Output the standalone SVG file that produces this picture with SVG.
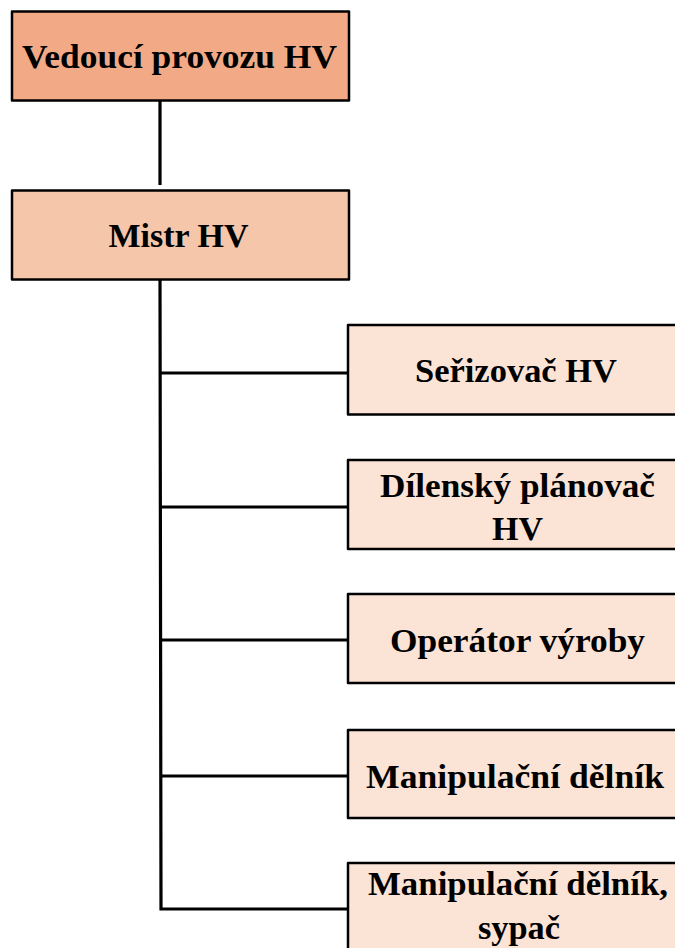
<svg xmlns="http://www.w3.org/2000/svg" width="675" height="948" viewBox="0 0 675 948">
<style>
.box{stroke:#000;stroke-width:2.5;stroke-linejoin:round}
.l1{fill:#F1AA85}
.l2{fill:#F5C6AA}
.l3{fill:#FBE3D6}
.t{font-family:"Liberation Serif","Times New Roman",serif;font-weight:bold;font-size:34px;fill:#000;text-anchor:middle}
.c{stroke:#000;stroke-width:3.2;fill:none}
</style>
<rect width="675" height="948" fill="#fff"/>
<g id="connectors">
<line class="c" x1="160" y1="101" x2="160" y2="185"/>
<polyline class="c" points="160,279 161,909 349,909"/>
<line class="c" x1="160" y1="373" x2="349" y2="373"/>
<line class="c" x1="160" y1="507" x2="349" y2="507"/>
<line class="c" x1="161" y1="640" x2="349" y2="640"/>
<line class="c" x1="161" y1="776" x2="349" y2="776"/>
</g>
<g id="n-vedouci">
<rect class="box l1" x="12" y="11.5" width="337" height="89"/>
<text class="t" x="179.5" y="68" textLength="315" lengthAdjust="spacingAndGlyphs">Vedoucí provozu HV</text>
</g>
<g id="n-mistr">
<rect class="box l2" x="12" y="190.5" width="337" height="89"/>
<text class="t" x="178.5" y="247" textLength="140" lengthAdjust="spacingAndGlyphs">Mistr HV</text>
</g>
<g id="n-serizovac">
<rect class="box l3" x="348" y="325" width="337" height="89.5"/>
<text class="t" x="516" y="382" textLength="202" lengthAdjust="spacingAndGlyphs">Seřizovač HV</text>
</g>
<g id="n-planovac">
<rect class="box l3" x="348" y="460" width="337" height="89"/>
<text class="t" x="517.5" y="497" textLength="275" lengthAdjust="spacingAndGlyphs">Dílenský plánovač</text>
<text class="t" x="517.5" y="540" textLength="51" lengthAdjust="spacingAndGlyphs">HV</text>
</g>
<g id="n-operator">
<rect class="box l3" x="348" y="594" width="337" height="89"/>
<text class="t" x="517.5" y="652" textLength="255" lengthAdjust="spacingAndGlyphs">Operátor výroby</text>
</g>
<g id="n-manipulacni">
<rect class="box l3" x="348" y="730" width="337" height="88"/>
<text class="t" x="515" y="788" textLength="298" lengthAdjust="spacingAndGlyphs">Manipulační dělník</text>
</g>
<g id="n-sypac">
<rect class="box l3" x="348" y="863" width="337" height="100"/>
<text class="t" x="518" y="895" textLength="300" lengthAdjust="spacingAndGlyphs">Manipulační dělník,</text>
<text class="t" x="519" y="939" textLength="82" lengthAdjust="spacingAndGlyphs">sypač</text>
</g>
</svg>
